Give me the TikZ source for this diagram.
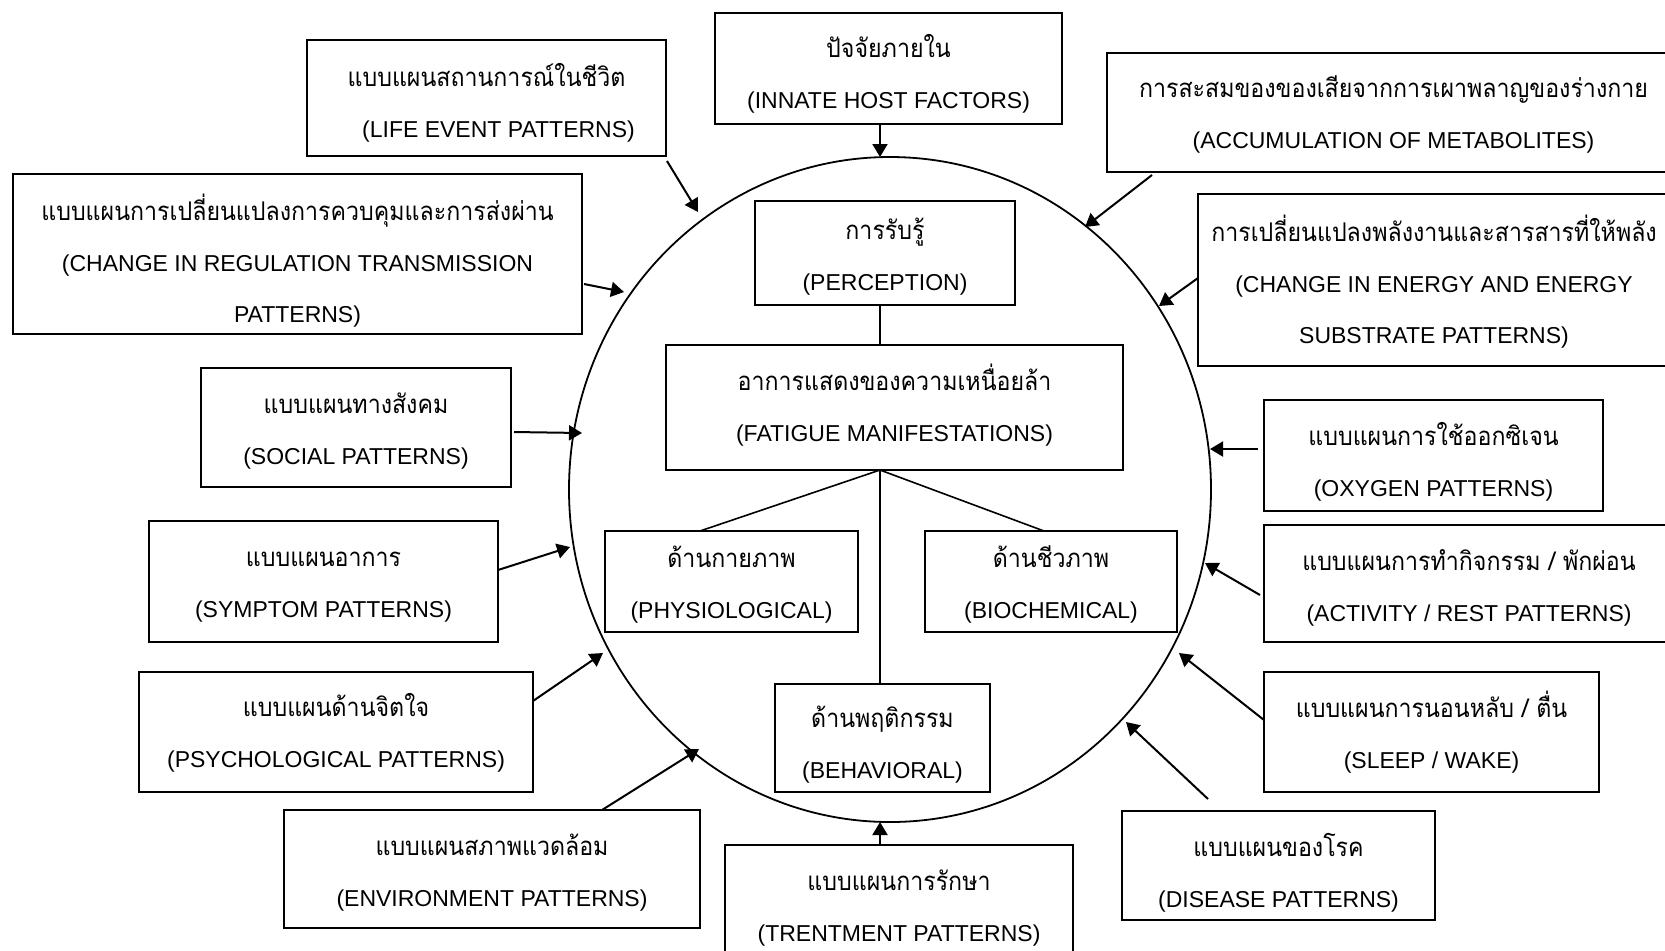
\documentclass[tikz,border=0pt]{standalone}
\usepackage{fontspec}
\setmainfont{Liberation Sans}
\newfontfamily\thai[Script=Thai, Scale=1.12, FakeStretch=0.9]{Loma}
\usetikzlibrary{arrows.meta,shapes.geometric}
\tikzset{
  box/.style={draw, line width=1pt, inner sep=0pt},
  txt/.style={align=center, inner sep=0pt, font=\fontsize{11.5}{25.5}\selectfont},
  arr/.style={line width=1pt, -{Triangle[length=6.5pt,width=7.5pt]}},
  link/.style={line width=0.8pt},
}
\newcommand{\tht}[1]{{\thai #1}}
% \bx{name}{center}{width}{height}{text yshift}{text}
\newcommand{\bx}[6]{%
  \node[box, minimum width=#3, minimum height=#4] (#1) at (#2) {};
  \node[txt, yshift=#5] (#1t) at (#1.center) {#6};}
\begin{document}
\begin{tikzpicture}[x=0.5pt,y=-0.5pt]
\useasboundingbox (0,0) rectangle (1665,950);
\fill[white] (0,0) rectangle (1665,950);
\clip (0,0) rectangle (1665,950);

% central circle
\node[draw, ellipse, line width=0.9pt, minimum width=321pt, minimum height=332.5pt, inner sep=0pt] (circ) at (890,489.5) {};

% outer boxes
\bx{life}{486.5,98}{179.5pt}{58pt}{-2.4pt}{\tht{แบบแผนสถานการณ์ในชีวิต}\\ \hspace*{12pt}(LIFE EVENT PATTERNS)}
\bx{innate}{888.5,68.5}{173.5pt}{55.5pt}{-2.9pt}{\tht{ปัจจัยภายใน}\\(INNATE HOST FACTORS)}
\bx{accum}{1393.5,112.5}{286.5pt}{59.5pt}{-0.8pt}{\tht{การสะสมของของเสียจากการเผาพลาญของร่างกาย}\\(ACCUMULATION OF METABOLITES)}
\bx{reg}{297.5,254}{284.5pt}{80pt}{-3.2pt}{\tht{แบบแผนการเปลี่ยนแปลงการควบคุมและการส่งผ่าน}\\(CHANGE IN REGULATION TRANSMISSION\\PATTERNS)}
\bx{energy}{1434,280}{236pt}{86pt}{-0.8pt}{\tht{การเปลี่ยนแปลงพลังงานและสารสารที่ให้พลัง}\\(CHANGE IN ENERGY AND ENERGY\\SUBSTRATE PATTERNS)}
\bx{social}{356,427.5}{155pt}{59.5pt}{-1.6pt}{\tht{แบบแผนทางสังคม}\\(SOCIAL PATTERNS)}
\bx{oxygen}{1433.5,455.5}{169.5pt}{55.5pt}{-2.9pt}{\tht{แบบแผนการใช้ออกซิเจน}\\(OXYGEN PATTERNS)}
\bx{symptom}{323.5,581.5}{174.5pt}{60.5pt}{-2.7pt}{\tht{แบบแผนอาการ}\\(SYMPTOM PATTERNS)}
\bx{activity}{1469,583.5}{205pt}{58.5pt}{-2.1pt}{\tht{แบบแผนการทำกิจกรรม / พักผ่อน}\\(ACTIVITY / REST PATTERNS)}
\bx{psych}{336,732}{197pt}{60pt}{-0.5pt}{\tht{แบบแผนด้านจิตใจ}\\(PSYCHOLOGICAL PATTERNS)}
\bx{sleep}{1431.5,732}{167.5pt}{60pt}{0pt}{\tht{แบบแผนการนอนหลับ / ตื่น}\\(SLEEP / WAKE)}
\bx{env}{492,869}{208pt}{59pt}{-1.9pt}{\tht{แบบแผนสภาพแวดล้อม}\\(ENVIRONMENT PATTERNS)}
\bx{disease}{1278.5,865.5}{156.5pt}{54.5pt}{-3.4pt}{\tht{แบบแผนของโรค}\\(DISEASE PATTERNS)}
\bx{treat}{899,906}{174pt}{61pt}{-1.1pt}{\tht{แบบแผนการรักษา}\\(TRENTMENT PATTERNS)}

% inner boxes
\bx{perc}{885,253}{130pt}{52pt}{-1.9pt}{\tht{การรับรู้}\\(PERCEPTION)}
\bx{fatigue}{894.5,407.5}{228.5pt}{62.5pt}{1.1pt}{\tht{อาการแสดงของความเหนื่อยล้า}\\(FATIGUE MANIFESTATIONS)}
\bx{physio}{731.5,581.5}{126.5pt}{50.5pt}{-1.6pt}{\tht{ด้านกายภาพ}\\(PHYSIOLOGICAL)}
\bx{bio}{1051,581.5}{126pt}{50.5pt}{-1.6pt}{\tht{ด้านชีวภาพ}\\(BIOCHEMICAL)}
\bx{behav}{882.5,738}{107.5pt}{54pt}{-3.4pt}{\tht{ด้านพฤติกรรม}\\(BEHAVIORAL)}

% inner links
\coordinate (pb) at (880,305);
\coordinate (ft) at (880,345);
\coordinate (fb) at (880,470);
\coordinate (phT) at (700,531);
\coordinate (biT) at (1044,531);
\coordinate (beT) at (880,684);
\draw[link] (pb) -- (ft);
\draw[link] (fb) -- (phT);
\draw[link] (fb) -- (biT);
\draw[link] (fb) -- (beT);

% arrows into circle
\coordinate (a1) at (880,125);  \coordinate (b1) at (880,157);
\coordinate (a2) at (667,161);  \coordinate (b2) at (698,212);
\coordinate (a3) at (584,284);  \coordinate (b3) at (624,292);
\coordinate (a4) at (514,432);  \coordinate (b4) at (582,433);
\coordinate (a5) at (498,570);  \coordinate (b5) at (570,547);
\coordinate (a6) at (533,701);  \coordinate (b6) at (603,653);
\coordinate (a7) at (602,810);  \coordinate (b7) at (699,749);
\coordinate (a8) at (880,845);  \coordinate (b8) at (880,822);
\coordinate (a9) at (1208,799); \coordinate (b9) at (1126,722);
\coordinate (a10) at (1264,720); \coordinate (b10) at (1179,653);
\coordinate (a11) at (1260,595); \coordinate (b11) at (1205,563);
\coordinate (a12) at (1258,449); \coordinate (b12) at (1210,449);
\coordinate (a13) at (1198,278); \coordinate (b13) at (1159,306);
\coordinate (a14) at (1152,175); \coordinate (b14) at (1085,227);
\foreach \i in {1,...,14} \draw[arr] (a\i) -- (b\i);
\end{tikzpicture}
\end{document}
